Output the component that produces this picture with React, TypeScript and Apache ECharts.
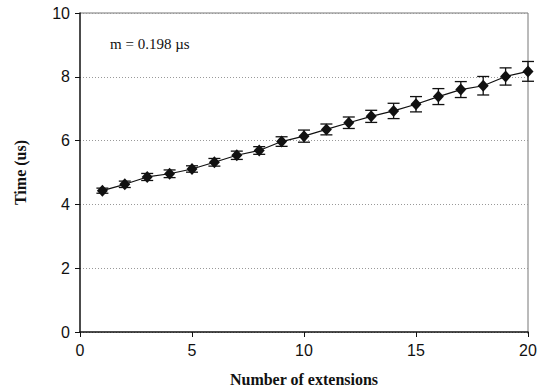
import React, { useEffect, useRef } from "react";
import * as echarts from "echarts";

const extensions = [1, 2, 3, 4, 5, 6, 7, 8, 9, 10, 11, 12, 13, 14, 15, 16, 17, 18, 19, 20];
const timeMean = [4.43, 4.63, 4.86, 4.96, 5.11, 5.32, 5.54, 5.69, 5.97, 6.14, 6.35, 6.56, 6.76, 6.93, 7.14, 7.38, 7.6, 7.72, 8.01, 8.17];
const timeErr = [0.08, 0.1, 0.11, 0.12, 0.1, 0.12, 0.13, 0.12, 0.15, 0.19, 0.17, 0.18, 0.19, 0.24, 0.24, 0.25, 0.25, 0.29, 0.27, 0.31];
const yTicks = [0, 2, 4, 6, 8, 10];
const xTicks = [0, 5, 10, 15, 20];
const annotation = "m = 0.198 \u00b5s";

export default function App() {
  const ref = useRef<HTMLDivElement>(null);
  useEffect(() => {
    if (!ref.current) return;
    const chart = echarts.init(ref.current, null, { renderer: "svg" });
    const lineData = extensions.map((x, i) => [x, timeMean[i]]);
    const errData = extensions.map((x, i) => [x, timeMean[i] - timeErr[i], timeMean[i] + timeErr[i]]);
    chart.setOption({
      animation: false,
      backgroundColor: "#fff",
      grid: { left: 80, right: 12, top: 13, bottom: 58, containLabel: false },
      xAxis: {
        type: "value",
        min: xTicks[0],
        max: xTicks[xTicks.length - 1],
        interval: 5,
        name: "Number of extensions",
        nameLocation: "middle",
        nameGap: 39,
        nameTextStyle: { fontFamily: "Liberation Serif", fontWeight: "bold", fontSize: 16, color: "#111" },
        axisLine: { show: true, lineStyle: { color: "#111", width: 1.5 } },
        axisTick: { show: true, inside: false, length: 5, lineStyle: { color: "#111" } },
        axisLabel: { fontFamily: "Liberation Sans", fontSize: 16, color: "#111", margin: 10 },
        splitLine: { show: false },
      },
      yAxis: {
        type: "value",
        min: yTicks[0],
        max: yTicks[yTicks.length - 1],
        interval: 2,
        name: "Time (us)",
        nameLocation: "middle",
        nameGap: 52,
        nameRotate: 90,
        nameTextStyle: { fontFamily: "Liberation Serif", fontWeight: "bold", fontSize: 16, color: "#111" },
        axisLine: { show: true, lineStyle: { color: "#111", width: 1.5 } },
        axisTick: { show: true, inside: false, length: 5, lineStyle: { color: "#111" } },
        axisLabel: { fontFamily: "Liberation Sans", fontSize: 16, color: "#111", margin: 10 },
        splitLine: { show: true, lineStyle: { color: "#999", type: [1, 2], width: 1 } },
      },
      graphic: [
        {
          type: "text",
          left: 110,
          top: 36,
          style: { text: annotation, fontFamily: "Liberation Serif", fontSize: 15, fill: "#111" },
        },
        {
          type: "line",
          shape: { x1: 80, y1: 13, x2: 528, y2: 13 },
          style: { stroke: "#777", lineWidth: 1 },
        },
        {
          type: "line",
          shape: { x1: 528, y1: 13, x2: 528, y2: 334 },
          style: { stroke: "#777", lineWidth: 1 },
        },
      ],
      series: [
        {
          type: "custom",
          data: errData,
          z: 3,
          renderItem: (params: any, api: any) => {
            const x = api.value(0);
            const lo = api.coord([x, api.value(1)]);
            const hi = api.coord([x, api.value(2)]);
            const w = 6;
            const st = { stroke: "#111", lineWidth: 1.3 };
            return {
              type: "group",
              children: [
                { type: "line", shape: { x1: lo[0], y1: lo[1], x2: hi[0], y2: hi[1] }, style: st },
                { type: "line", shape: { x1: lo[0] - w, y1: lo[1], x2: lo[0] + w, y2: lo[1] }, style: st },
                { type: "line", shape: { x1: hi[0] - w, y1: hi[1], x2: hi[0] + w, y2: hi[1] }, style: st },
              ],
            };
          },
        },
        {
          type: "line",
          data: lineData,
          z: 4,
          symbol: "diamond",
          symbolSize: [11, 12],
          lineStyle: { color: "#111", width: 1.2 },
          itemStyle: { color: "#111" },
        },
      ],
    });
    return () => chart.dispose();
  }, []);
  return <div ref={ref} style={{ width: 540, height: 392, position: "absolute", left: 0, top: 0 }} />;
}
